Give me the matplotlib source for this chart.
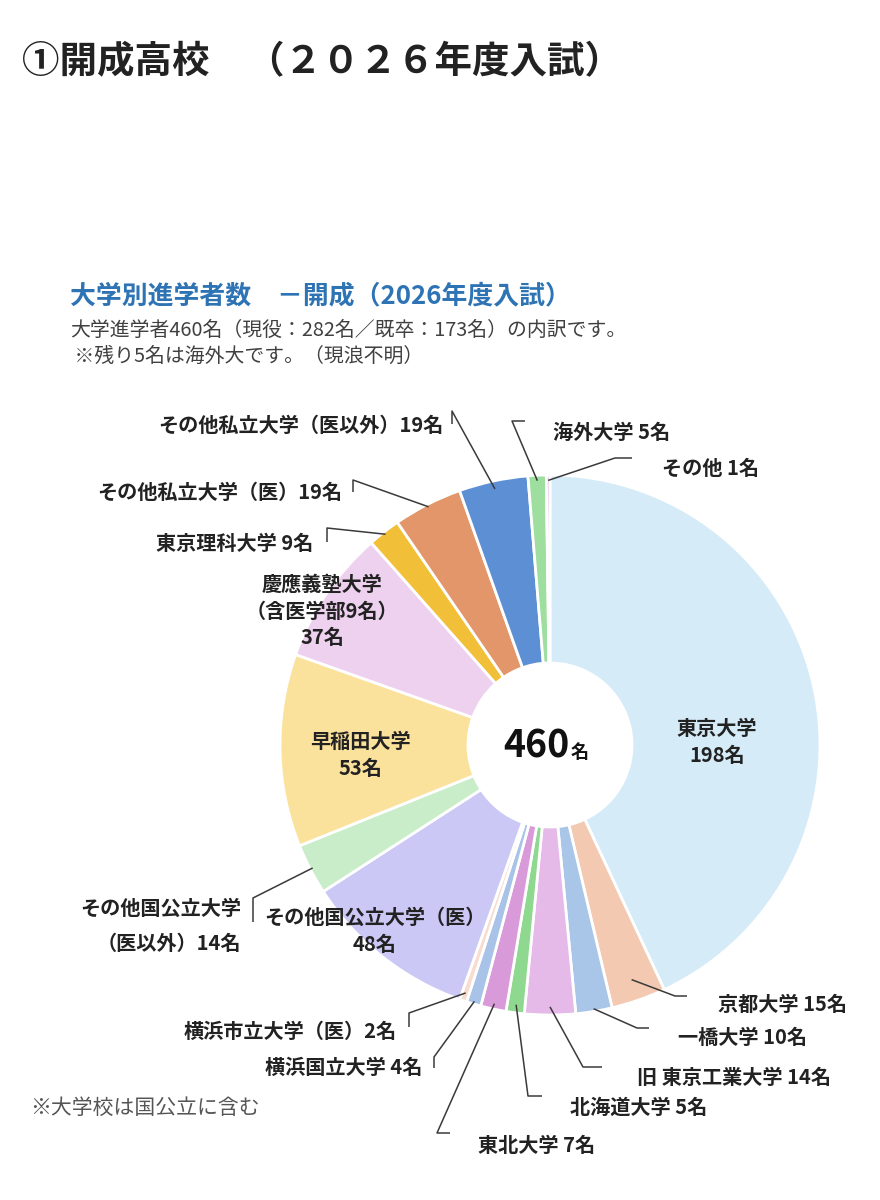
import numpy as np
import matplotlib.pyplot as plt

plt.rcParams['font.family'] = ['Noto Sans CJK JP', 'DejaVu Sans']

# 大学別進学者数（開成 2026年度入試）
schools = ["東京大学", "京都大学", "一橋大学", "旧 東京工業大学", "北海道大学",
           "東北大学", "横浜国立大学", "横浜市立大学（医）", "その他国公立大学（医）",
           "その他国公立大学（医以外）", "早稲田大学", "慶應義塾大学", "東京理科大学",
           "その他私立大学（医）", "その他私立大学（医以外）", "海外大学", "その他"]
counts = [198, 15, 10, 14, 5, 7, 4, 2, 48, 14, 53, 37, 9, 19, 19, 5, 1]
colors = ["#d5ebf8", "#f3c9b1", "#a9c5e8", "#e5b9e8", "#8fd88f",
          "#d99ad9", "#a8c3e7", "#f7dccf", "#cbc8f5", "#c9edc9",
          "#fbe29c", "#edd1ee", "#f2c038", "#e2966a", "#5d8fd5",
          "#9ede9e", "#e7bfe7"]
total = sum(counts)

title = "①開成高校　（２０２６年度入試）"
subtitle = "大学別進学者数　－開成（2026年度入試）"
note1 = "大学進学者460名（現役：282名／既卒：173名）の内訳です。"
note2 = " ※残り5名は海外大です。（現浪不明）"
footnote = "※大学校は国公立に含む"

# labels drawn inside the ring: index -> (text, x, y)
inside = {
    0: ("東京大学\n198名", 717, 742),
    8: ("その他国公立大学（医）\n48名", 375, 931),
    10: ("早稲田大学\n53名", 360, 755),
    11: ("慶應義塾大学\n（含医学部9名）\n37名", 322, 611),
}
# labels outside: index -> (text, x, y, ha, elbow, end, r_frac)
outside = {
    1: ("京都大学 15名", 718, 1004, 'left', (675, 996), (687, 996), 0.92),
    2: ("一橋大学 10名", 678, 1037, 'left', (637, 1028), (649, 1028), 0.99),
    3: ("旧 東京工業大学 14名", 637, 1077, 'left', (583, 1067), (602, 1067), 0.97),
    4: ("北海道大学 5名", 570, 1107, 'left', (528, 1096), (542, 1096), 0.97),
    5: ("東北大学 7名", 478, 1145, 'left', (437, 1133), (450, 1133), 0.98),
    6: ("横浜国立大学 4名", 422, 1067, 'right', (434, 1057), (434, 1068), 0.99),
    7: ("横浜市立大学（医）2名", 397, 1031, 'right', (409, 1013), (409, 1027), 0.97),
    9: ("その他国公立大学\n（医以外）14名", 241, 925, 'right', (253, 898), (253, 922), 0.99),
    12: ("東京理科大学 9名", 313, 543, 'right', (327, 528), (327, 542), 0.99),
    13: ("その他私立大学（医）19名", 342, 492, 'right', (353, 480), (353, 492), 0.99),
    14: ("その他私立大学（医以外）19名", 443, 425, 'right', (452, 411), (452, 424), 0.97),
    15: ("海外大学 5名", 553, 432, 'left', (512, 421), (525, 421), 0.98),
    16: ("その他 1名", 662, 468, 'left', (615, 458), (632, 458), 0.98),
}

fig = plt.figure(figsize=(8.8, 12), dpi=100)
ax = fig.add_axes([0, 0, 1, 1])

cx, cy, R, r_in = 550, 745, 270, 82
# y axis is flipped below, so counterclock=True draws clockwise on screen
wedges, _ = ax.pie(counts, colors=colors, startangle=-90, counterclock=True,
                   center=(cx, cy), radius=R, frame=True,
                   wedgeprops=dict(width=R - r_in, edgecolor='white', linewidth=2))
ax.set_xlim(0, 880)
ax.set_ylim(1200, 0)
ax.set_aspect('equal')
ax.axis('off')

lab_kw = dict(fontsize=14.5, fontweight='bold', color='#222222')

for i, (txt, x, y) in inside.items():
    ax.text(x, y, txt, ha='center', va='center', linespacing=1.35, **lab_kw)

for i, (txt, x, y, ha, elbow, end, rf) in outside.items():
    w = wedges[i]
    a = np.deg2rad((w.theta1 + w.theta2) / 2)
    px, py = cx + rf * R * np.cos(a), cy + rf * R * np.sin(a)
    ax.plot([px, elbow[0], end[0]], [py, elbow[1], end[1]], color='#3a3a3a', lw=1.1,
            solid_capstyle='butt')
    if "\n" in txt:
        l1, l2 = txt.split("\n")
        ax.text(x, y - 17, l1, ha=ha, va='center', **lab_kw)
        ax.text(x, y + 18, l2, ha=ha, va='center', **lab_kw)
    else:
        ax.text(x, y, txt, ha=ha, va='center', **lab_kw)

# total in the middle
ax.text(569, 758, str(total), ha='right', va='baseline', fontsize=27,
        fontweight='bold', color='#111111')
ax.text(571, 758, "名", ha='left', va='baseline', fontsize=13,
        fontweight='bold', color='#111111')

ax.text(22, 62, title, ha='left', va='center', fontsize=27, fontweight='bold', color='#222222')
ax.text(70, 296, subtitle, ha='left', va='center', fontsize=18.6, fontweight='bold', color='#2e74b5')
ax.text(70, 330, note1, ha='left', va='center', fontsize=14.3, color='#404040')
ax.text(70, 356, note2, ha='left', va='center', fontsize=14.3, color='#404040')
ax.text(30, 1108, footnote, ha='left', va='center', fontsize=15, color='#555555')

fig.savefig("out.png", dpi=100, facecolor='white')
